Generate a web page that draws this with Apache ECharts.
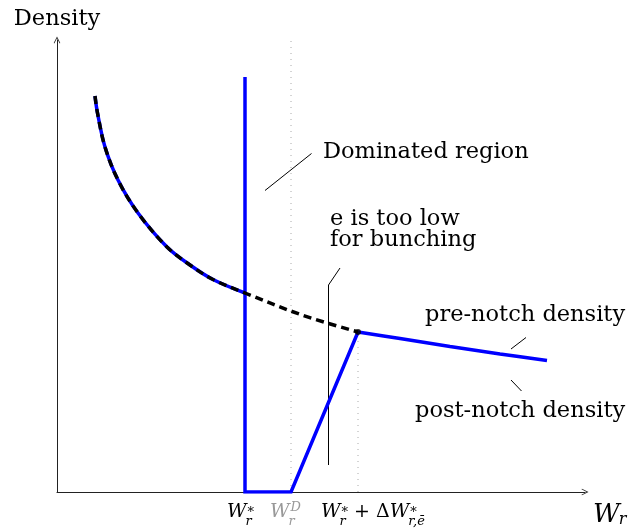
<!DOCTYPE html>
<html><head><meta charset="utf-8">
<script src="https://cdn.jsdelivr.net/npm/echarts@6/dist/echarts.min.js"></script>
<style>html,body{margin:0;padding:0;background:#fff}#c{width:644px;height:531px}</style>
</head><body><div id="c"></div>
<script>
// ---- data ----
const xMax = 10.56, yMax = 9.04;
// pre-notch density (blue solid + black dashed), up to W*
const preX = [0.76, 0.81, 0.96, 1.22, 1.62, 2.20, 2.66, 3.12, 3.76];
const preY = [7.92, 7.58, 6.90, 6.24, 5.58, 4.90, 4.54, 4.25, 3.98];
// counterfactual continuation (dashed only)
const cfX = [4.90, 6.02];
const cfY = [3.54, 3.20];
// notch points: W*, W^D, W*+dW
const notchX = [3.76, 4.68, 6.02];
const notchTopY = 8.30;
// post-notch density
const postX = [6.02, 6.86, 7.86, 8.86, 9.80];
const postY = [3.20, 3.07, 2.91, 2.76, 2.63];
// annotation texts (left, baseline) and leader lines
const annTexts = ['Dominated region', 'e is too low', 'for bunching', 'pre-notch density', 'post-notch density'];
const annX = [5.32, 5.46, 5.46, 7.36, 7.16];
const annY = [6.66, 5.32, 4.90, 3.40, 1.48];
const leaderDominated = [[4.16, 6.03], [5.09, 6.77]];
const leaderTooLow = [[5.43, 0.54], [5.43, 4.14], [5.66, 4.48]];
const leaderPre = [[9.08, 2.86], [9.38, 3.09]];
const leaderPost = [[9.08, 2.24], [9.29, 2.02]];

const zip = (xs, ys) => xs.map((x, i) => [x, ys[i]]);
const BLUE = '#0000ff';
const SERIF = '"DejaVu Serif", serif';

const chart = echarts.init(document.getElementById('c'), null, {renderer: 'canvas'});
const leaderStyle = {type: 'line', silent: true, symbol: 'none', animation: false,
  lineStyle: {color: '#000', width: 1}, z: 1};

const dashedData = zip(preX, preY).concat(zip(cfX, cfY));
const blueBreak = [[notchX[0], notchTopY], [notchX[0], 0], [notchX[1], 0], [postX[0], postY[0]]];

const arrowPath = 'path://M0,10 L5,0 L10,10 L9.1,10.7 L5,2.8 L0.9,10.7 Z';

chart.setOption({
  animation: false,
  grid: {left: 57, right: 59, top: 40, bottom: 39},
  xAxis: {type: 'value', min: 0, max: xMax,
    axisLine: {show: true, symbol: ['none', arrowPath], symbolSize: [9, 7],
      lineStyle: {color: '#222', width: 1}},
    axisTick: {show: false}, axisLabel: {show: false}, splitLine: {show: false}},
  yAxis: {type: 'value', min: 0, max: yMax,
    name: 'Density', nameLocation: 'end', nameGap: 9,
    nameTextStyle: {fontFamily: SERIF, fontSize: 22.5, color: '#000'},
    axisLine: {show: true, symbol: ['none', arrowPath], symbolSize: [9, 7],
      lineStyle: {color: '#222', width: 1}},
    axisTick: {show: false}, axisLabel: {show: false}, splitLine: {show: false}},
  series: [
    {type: 'line', silent: true, symbol: 'none', data: [[notchX[1], 0], [notchX[1], yMax]],
      lineStyle: {color: '#aaa', width: 1, type: [1, 5]}, z: 1},
    {type: 'line', silent: true, symbol: 'none', data: [[notchX[2], 0], [notchX[2], cfY[cfY.length - 1]]],
      lineStyle: {color: '#aaa', width: 1, type: [1, 5]}, z: 1},
    Object.assign({}, leaderStyle, {data: leaderDominated}),
    Object.assign({}, leaderStyle, {data: leaderTooLow}),
    Object.assign({}, leaderStyle, {data: leaderPre}),
    Object.assign({}, leaderStyle, {data: leaderPost}),
    {type: 'line', silent: true, symbol: 'none', smooth: 0.35, data: zip(preX, preY),
      lineStyle: {color: BLUE, width: 3.5, cap: 'butt'}, z: 3},
    {type: 'line', silent: true, symbol: 'none', data: blueBreak,
      lineStyle: {color: BLUE, width: 3.5, join: 'miter'}, z: 3},
    {type: 'line', silent: true, symbol: 'none', smooth: 0.35, data: zip(postX, postY),
      lineStyle: {color: BLUE, width: 3.5}, z: 3},
    {type: 'line', silent: true, symbol: 'none', smooth: 0.35, data: dashedData,
      lineStyle: {color: '#000', width: 3.5, type: [8, 5]}, z: 4},
    {type: 'scatter', silent: true, symbolSize: 6, data: [[notchX[2], cfY[cfY.length - 1]]],
      itemStyle: {color: '#000'}, z: 5}
  ]
});

// ---- texts ----
const cv = document.createElement('canvas').getContext('2d');
function tw(t, font) { cv.font = font; return cv.measureText(t).width; }
function txt(t, x, base, size, opts) {
  opts = opts || {};
  const font = (opts.italic ? 'italic ' : '') + size + 'px ' + SERIF;
  return {type: 'text', silent: true, z: 10,
    style: {text: t, x: x, y: base - 0.3 * size, font: font, fill: opts.color || '#000',
      textAlign: 'left', verticalAlign: 'middle'}};
}
const toPx = p => chart.convertToPixel({gridIndex: 0}, p);
const g = [];
annTexts.forEach((t, i) => {
  const p = toPx([annX[i], annY[i]]);
  g.push(txt(t, p[0], p[1], 22.5));
});

// math label builder
function mathLabel(x0, base, items, color) {
  let cx = x0, scriptStart = null, scriptW = 0;
  items.forEach(it => {
    const font = (it.italic ? 'italic ' : '') + it.size + 'px ' + SERIF;
    const w = tw(it.t, font);
    if (it.kind === 'main') {
      if (scriptStart !== null) { cx = scriptStart + scriptW; scriptStart = null; scriptW = 0; }
      g.push(txt(it.t, cx + (it.dx || 0), base + (it.dy || 0), it.size, {italic: it.italic, color: color}));
      cx += w;
    } else {
      if (scriptStart === null) { scriptStart = cx; scriptW = 0; }
      g.push(txt(it.t, scriptStart + (it.dx || 0), base + (it.dy || 0), it.size, {italic: it.italic, color: color}));
      scriptW = Math.max(scriptW, w + (it.dx || 0));
    }
  });
}
const M = 19, S = 13;
const Wm = {t: 'W', size: M, italic: true, kind: 'main'};
const star = {t: '*', size: S, italic: false, kind: 'sup', dy: -1, dx: 1};
const subR = {t: 'r', size: S, italic: true, kind: 'sub', dy: 8, dx: -1};
const base0 = toPx([0, 0])[1];
const lb = base0 + 26;
let p1 = toPx([notchX[0], 0]);
mathLabel(p1[0] - 18, lb, [Wm, star, subR]);
let p2 = toPx([notchX[1], 0]);
mathLabel(p2[0] - 21, lb, [Wm, {t: 'D', size: S, italic: true, kind: 'sup', dy: -6, dx: 1}, subR], '#999');
let p3 = toPx([notchX[2], 0]);
mathLabel(p3[0] - 37, lb, [Wm, star, subR,
  {t: ' + ', size: M, italic: false, kind: 'main'},
  {t: '\u0394', size: M, italic: false, kind: 'main'},
  Wm, star, {t: 'r,\u0113', size: S, italic: true, kind: 'sub', dy: 8, dx: -1}]);
// x axis name W_r
const pEnd = toPx([xMax, 0]);
mathLabel(pEnd[0] + 8, base0 + 31, [{t: 'W', size: 26, italic: true, kind: 'main'},
  {t: 'r', size: 16, italic: true, kind: 'sub', dy: 2, dx: -1}]);

chart.setOption({graphic: g});
</script></body></html>
